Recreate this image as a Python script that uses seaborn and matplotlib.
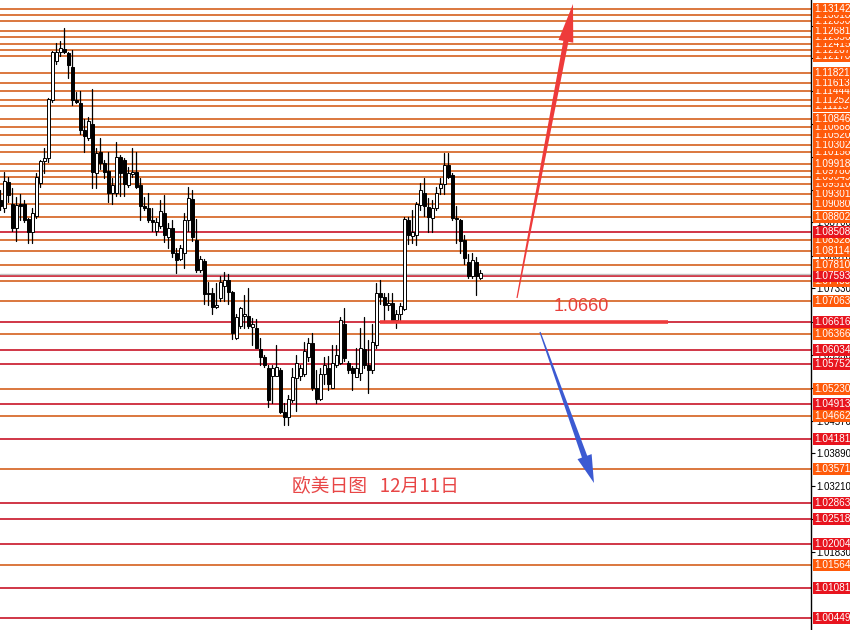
import numpy as np
import pandas as pd
import matplotlib
matplotlib.use('Agg')
import matplotlib.pyplot as plt
import matplotlib.transforms as mtransforms
from matplotlib.patches import Rectangle, Polygon
import seaborn as sns

# --- 1. DATA (daily EURUSD candles) ---
opens = [
    1.0916, 1.0901, 1.0955, 1.0909, 1.0859, 1.0909, 1.0909, 1.0878, 1.0849, 1.0884,
    1.0953, 1.0997, 1.1005, 1.1124, 1.1207, 1.1226, 1.1232, 1.1222, 1.1193, 1.1126,
    1.1118, 1.1062, 1.1045, 1.1074, 1.0972, 1.1016, 1.0993, 1.0978, 1.0932, 1.0932,
    1.1007, 1.0999, 1.0947, 1.0970, 1.0976, 1.0947, 1.0905, 1.0901, 1.0874, 1.0853,
    1.0862, 1.0889, 1.0839, 1.0859, 1.0807, 1.0793, 1.0807, 1.0874, 1.0918, 1.0834,
    1.0770, 1.0789, 1.0722, 1.0722, 1.0693, 1.0712, 1.0737, 1.0751, 1.0724, 1.0630,
    1.0655, 1.0674, 1.0674, 1.0653, 1.0651, 1.0607, 1.0589, 1.0566, 1.0551, 1.0551,
    1.0562, 1.0474, 1.0464, 1.0499, 1.0545, 1.0551, 1.0555, 1.0589, 1.0618, 1.0524,
    1.0503, 1.0555, 1.0566, 1.0526, 1.0572, 1.0578, 1.0659, 1.0578, 1.0566, 1.0547,
    1.0557, 1.0607, 1.0572, 1.0562, 1.0614, 1.0722, 1.0714, 1.0697, 1.0703, 1.0666,
    1.0680, 1.0689, 1.0874, 1.0841, 1.0843, 1.0907, 1.0932, 1.0903, 1.0880, 1.0899,
    1.0941, 1.0951, 1.0989, 1.0968, 1.0880, 1.0874, 1.0834, 1.0787, 1.0759, 1.0787,
    1.0755,
]
highs = [
    1.0937, 1.0974, 1.0964, 1.0941, 1.0922, 1.0930, 1.0916, 1.0880, 1.0899, 1.0972,
    1.1001, 1.1024, 1.1130, 1.1228, 1.1243, 1.1247, 1.1276, 1.1224, 1.1230, 1.1141,
    1.1143, 1.1085, 1.1089, 1.1147, 1.1026, 1.1045, 1.0999, 1.1016, 1.0962, 1.1037,
    1.1010, 1.1005, 1.0985, 1.1024, 1.1016, 1.0962, 1.0922, 1.0932, 1.0901, 1.0880,
    1.0916, 1.0928, 1.0868, 1.0874, 1.0816, 1.0822, 1.0889, 1.0943, 1.0937, 1.0878,
    1.0799, 1.0793, 1.0745, 1.0734, 1.0743, 1.0759, 1.0766, 1.0762, 1.0728, 1.0680,
    1.0693, 1.0718, 1.0734, 1.0670, 1.0668, 1.0630, 1.0593, 1.0572, 1.0572, 1.0614,
    1.0566, 1.0493, 1.0510, 1.0566, 1.0593, 1.0572, 1.0620, 1.0630, 1.0639, 1.0562,
    1.0566, 1.0589, 1.0591, 1.0614, 1.0614, 1.0672, 1.0691, 1.0582, 1.0570, 1.0609,
    1.0651, 1.0672, 1.0624, 1.0659, 1.0743, 1.0749, 1.0722, 1.0722, 1.0722, 1.0687,
    1.0703, 1.0882, 1.0882, 1.0895, 1.0912, 1.0953, 1.0962, 1.0920, 1.0916, 1.0943,
    1.0962, 1.1014, 1.1014, 1.0972, 1.0905, 1.0878, 1.0843, 1.0805, 1.0807, 1.0797,
    1.0770,
]
lows = [
    1.0895, 1.0891, 1.0912, 1.0853, 1.0832, 1.0874, 1.0870, 1.0828, 1.0828, 1.0880,
    1.0943, 1.0972, 1.0995, 1.1120, 1.1201, 1.1216, 1.1222, 1.1170, 1.1114, 1.1118,
    1.1055, 1.1016, 1.1041, 1.0941, 1.0941, 1.0982, 1.0962, 1.0912, 1.0909, 1.0926,
    1.0926, 1.0926, 1.0943, 1.0964, 1.0941, 1.0874, 1.0895, 1.0870, 1.0853, 1.0843,
    1.0859, 1.0830, 1.0816, 1.0797, 1.0764, 1.0791, 1.0776, 1.0853, 1.0832, 1.0766,
    1.0766, 1.0701, 1.0697, 1.0680, 1.0691, 1.0707, 1.0707, 1.0701, 1.0628, 1.0628,
    1.0651, 1.0651, 1.0651, 1.0614, 1.0609, 1.0572, 1.0568, 1.0485, 1.0493, 1.0551,
    1.0472, 1.0447, 1.0447, 1.0495, 1.0478, 1.0541, 1.0551, 1.0582, 1.0520, 1.0493,
    1.0499, 1.0534, 1.0520, 1.0524, 1.0568, 1.0576, 1.0582, 1.0557, 1.0520, 1.0547,
    1.0541, 1.0566, 1.0514, 1.0557, 1.0609, 1.0701, 1.0662, 1.0687, 1.0662, 1.0651,
    1.0666, 1.0687, 1.0826, 1.0828, 1.0822, 1.0895, 1.0884, 1.0849, 1.0849, 1.0895,
    1.0930, 1.0930, 1.0962, 1.0874, 1.0828, 1.0807, 1.0784, 1.0755, 1.0755, 1.0718,
    1.0753,
]
closes = [
    1.0905, 1.0957, 1.0928, 1.0859, 1.0907, 1.0905, 1.0874, 1.0849, 1.0889, 1.0964,
    1.0997, 1.1005, 1.1128, 1.1224, 1.1224, 1.1234, 1.1224, 1.1197, 1.1124, 1.1120,
    1.1062, 1.1051, 1.1082, 1.0974, 1.1014, 1.0993, 1.0974, 1.0932, 1.0947, 1.1007,
    1.0972, 1.0951, 1.0972, 1.0976, 1.0943, 1.0905, 1.0901, 1.0874, 1.0870, 1.0870,
    1.0893, 1.0843, 1.0859, 1.0807, 1.0791, 1.0816, 1.0876, 1.0920, 1.0839, 1.0770,
    1.0793, 1.0720, 1.0720, 1.0693, 1.0697, 1.0745, 1.0751, 1.0724, 1.0639, 1.0672,
    1.0691, 1.0680, 1.0655, 1.0659, 1.0609, 1.0589, 1.0572, 1.0499, 1.0566, 1.0568,
    1.0474, 1.0464, 1.0503, 1.0547, 1.0578, 1.0566, 1.0603, 1.0618, 1.0524, 1.0503,
    1.0555, 1.0572, 1.0534, 1.0578, 1.0593, 1.0666, 1.0587, 1.0562, 1.0557, 1.0566,
    1.0609, 1.0572, 1.0562, 1.0620, 1.0722, 1.0714, 1.0697, 1.0703, 1.0666, 1.0680,
    1.0695, 1.0878, 1.0843, 1.0849, 1.0909, 1.0937, 1.0905, 1.0882, 1.0901, 1.0932,
    1.0951, 1.0989, 1.0964, 1.0880, 1.0878, 1.0832, 1.0795, 1.0759, 1.0791, 1.0759,
    1.0764,
]

# horizontal price levels and their kind ('o' = orange, 'r' = red)
level_prices = [
    1.13142, 1.13018, 1.12890, 1.12681, 1.12556, 1.12415, 1.12287, 1.12170,
    1.11821, 1.11613, 1.11444, 1.11252, 1.11115, 1.10846, 1.10688, 1.10520,
    1.10302, 1.10158, 1.09918, 1.09780, 1.09649, 1.09510, 1.09301, 1.09080,
    1.08802, 1.08508, 1.08328, 1.08114, 1.07810, 1.07593, 1.07480, 1.07063,
    1.06616, 1.06366, 1.06034, 1.05752, 1.05230, 1.04913, 1.04662, 1.04181,
    1.03571, 1.02863, 1.02518, 1.02004, 1.01564, 1.01081, 1.00449,
]
level_kinds = [
    'o', 'o', 'o', 'o', 'o', 'o', 'o', 'o',
    'o', 'o', 'o', 'o', 'o', 'o', 'o', 'o',
    'o', 'o', 'o', 'o', 'o', 'o', 'o', 'o',
    'o', 'r', 'o', 'o', 'o', 'r', 'o', 'o',
    'r', 'o', 'r', 'r', 'o', 'r', 'o', 'r',
    'o', 'r', 'r', 'r', 'o', 'r', 'r',
]
tick_prices = [1.01830, 1.02520, 1.03210, 1.03890, 1.04570, 1.05250, 1.05930,
               1.06620, 1.07330, 1.08010, 1.08700, 1.09380, 1.10070, 1.10750,
               1.11440, 1.12120, 1.12800]
bid_price = 1.0763
key_level = 1.0662
key_label = '1.0660'
caption = '欧美日图   12月11日'

# --- 2. STYLE ---
LINE_COLORS = {'o': '#d4601e', 'r': '#c81428'}
BOX_COLORS = {'o': '#ff5a0a', 'r': '#e8141e'}
W, H = 850, 630          # figure size in pixels
AX_W = 811               # price axis sits at this pixel column

sns.set_style('white')
plt.rcParams['font.family'] = ['Liberation Sans', 'DejaVu Sans']

fig = plt.figure(figsize=(W / 100, H / 100), dpi=100)
ax = fig.add_axes([0, 0, AX_W / W, 1])

idx = np.arange(len(opens))
o = np.array(opens)
c = np.array(closes)

# level lines (behind the candles)
for price, kind in zip(level_prices, level_kinds):
    ax.axhline(price, color=LINE_COLORS[kind], lw=1.2, zorder=1)
ax.axhline(bid_price, color='#c4c4c4', lw=1.0, zorder=1)

# wicks: one vertical segment per candle
wicks = pd.DataFrame({
    'idx': np.repeat(idx, 2),
    'price': np.column_stack([lows, highs]).ravel(),
})
sns.lineplot(data=wicks, x='idx', y='price', units='idx', estimator=None,
             sort=False, color='black', linewidth=0.9, legend=False,
             ax=ax, zorder=2)

# bodies
up = c >= o
body = np.maximum(np.abs(c - o), 0.00006)
ax.bar(idx, body, bottom=np.minimum(o, c), width=0.72,
       color=np.where(up, 'white', 'black'), edgecolor='black',
       linewidth=0.7, zorder=3)

# key level drawn on top
ax.plot([94.9, 166.9], [key_level, key_level], color='#ee3b3b', lw=2.6,
        solid_capstyle='butt', zorder=4)
ax.text(145.2, 1.0695, key_label, color='#e8413c', fontsize=13,
        ha='center', va='center', zorder=6)
ax.text(93.9, 1.0321, caption, color='#e84646', fontsize=13.5,
        ha='center', va='center', family=['Noto Sans CJK SC', 'DejaVu Sans'],
        zorder=6)

# limits: 1px = 1/4 candle horizontally, 1/4800 price vertically
ax.set_xlim(-0.075, (AX_W - 0.3) / 4)
ax.set_ylim(1.00208, 1.13333)
ax.set_xlabel('')
ax.set_ylabel('')
ax.set_xticks([])

# right price axis with tick labels
ax.yaxis.tick_right()
ax.set_yticks(tick_prices)
ax.set_yticklabels([f'{p:.5f}' for p in tick_prices])
ax.tick_params(axis='y', direction='out', length=3, width=0.8, pad=1.0,
               labelsize=7, colors='black', right=True, left=False)
for side in ['left', 'top', 'bottom']:
    ax.spines[side].set_visible(False)
ax.spines['right'].set_color('black')
ax.spines['right'].set_linewidth(1.0)

# coloured price boxes, lower ones drawn first
blend = mtransforms.blended_transform_factory(ax.transAxes, ax.transData)
order = np.argsort(level_prices)
for k, j in enumerate(order):
    price, kind = level_prices[j], level_kinds[j]
    ax.add_patch(Rectangle((1 + 1.5 / AX_W, price - 0.00125), 40 / AX_W, 0.0025,
                           transform=blend, facecolor=BOX_COLORS[kind],
                           edgecolor='none', clip_on=False, zorder=10 + 2 * k))
    ax.text(1 + 3.0 / AX_W, price, f'{price:.5f}', transform=blend,
            color='white', fontsize=7.2, ha='left', va='center',
            clip_on=False, zorder=11 + 2 * k)


# --- 3. ARROWS (tapered, drawn in pixel space) ---
def arrow_shape(tail, tip, head_len, head_half, shaft_tail, shaft_head):
    t = np.array(tail, float)
    p = np.array(tip, float)
    u = (p - t) / np.hypot(*(p - t))
    n = np.array([-u[1], u[0]])
    b = p - u * head_len
    pts = [t + n * shaft_tail, b + n * shaft_head, b + n * head_half, p,
           b - n * head_half, b - n * shaft_head, t - n * shaft_tail]
    return [(x / W, 1 - y / H) for x, y in pts]


fig.add_artist(Polygon(arrow_shape((517, 298), (573, 4), 38, 7.5, 0.6, 2.6),
                       closed=True, transform=fig.transFigure,
                       facecolor='#ee3b3b', edgecolor='none', zorder=20))
fig.add_artist(Polygon(arrow_shape((540, 332), (594, 483), 28, 7.5, 0.6, 2.8),
                       closed=True, transform=fig.transFigure,
                       facecolor='#3c5ad2', edgecolor='none', zorder=20))

fig.savefig('out.png', dpi=100, facecolor='white')
plt.close(fig)
